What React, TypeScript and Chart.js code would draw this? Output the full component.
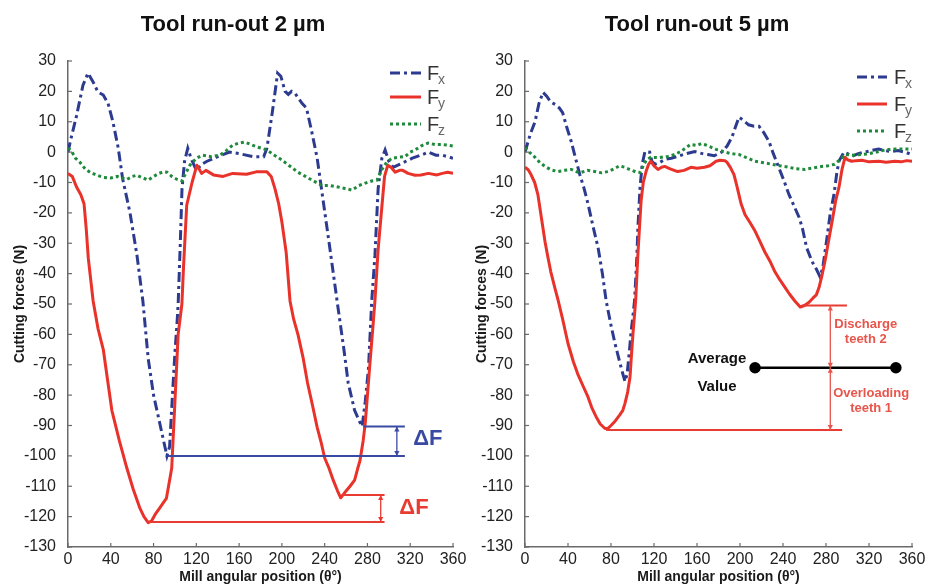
import React, { useEffect, useRef } from "react";
import { Chart, registerables } from "chart.js";

Chart.register(...registerables);

// ---------------- Axes ----------------
const X_MIN = 0;
const X_MAX = 360;
const X_STEP = 40;
const Y_MIN = -130;
const Y_MAX = 30;
const Y_STEP = 10;

// ---------------- Tool run-out 2 µm ----------------
const fx2Angles = [0, 2, 8, 14, 18.7, 23.6, 28, 33, 37.5, 42, 47, 51, 58, 64.5, 70, 75, 80, 86, 90, 92.5, 95, 98, 100, 102, 103, 105, 106.6, 109, 112, 115, 120, 125, 130, 140, 151, 160, 173, 183, 186, 191, 196, 199, 203, 206, 209, 212, 215, 219, 223, 228, 233, 237, 245, 252, 258, 262, 268, 273, 275, 278, 281, 284, 287, 290, 293.5, 296.5, 300, 304, 310, 316, 322, 330, 337, 344, 350, 355, 360];
const fx2Values = [0, 3.3, 12, 22, 26, 23, 19.8, 18.8, 16, 10, 1.3, -8.6, -20, -34, -49, -68, -80, -89.6, -96, -100, -97, -78, -66, -56, -50, -30, -12, -3, 1.3, -2, -6, -4, -3, -1.5, 0, -0.5, -1.5, -1.5, 1.3, 13, 26, 25, 20, 19, 20, 19.5, 18, 16, 14.5, 6.6, -2, -12, -32, -50, -65, -76, -85, -89, -90.3, -82, -71, -49, -34, -12, -2, 0.7, -3, -5, -4, -3, -2, -1, 0, -1, -1, -1.5, -2];

const fy2Angles = [0, 4, 8, 12, 15, 17, 19, 23.5, 28, 33, 37, 41, 48, 55, 61, 67, 71, 75, 78, 82, 86, 90, 92, 95, 97, 100, 103, 106.5, 108, 111, 116, 120.5, 125, 129, 136, 145, 154, 167, 176, 186, 190, 193.5, 197, 200, 204, 207.6, 211, 215, 220, 224, 229, 233, 237, 240, 244, 248, 252, 255, 259, 263.7, 268, 271, 273, 276, 278, 280, 282, 285, 287, 290, 293.6, 296, 299, 302, 306, 310, 313, 318, 324.5, 330, 337, 345, 350, 355, 360];
const fy2Values = [-7, -8, -11.5, -14, -17, -25, -35, -49, -58, -65, -75, -85, -95, -104, -111, -117, -120, -122, -121.5, -119, -117, -115, -114, -108, -104, -82, -60, -50, -38, -17.5, -10, -4.3, -7, -6, -7.5, -8, -7, -7.3, -6.5, -6.5, -8, -12, -17, -23, -33, -49, -55, -60, -68, -76, -84, -90.6, -96, -100.7, -104, -108, -111.5, -113.8, -112, -110, -108, -104, -101.6, -95, -89, -80, -71, -58, -49, -32, -17.5, -8, -4.3, -5, -6.6, -6, -6, -7, -7.6, -7.5, -7, -7.5, -7, -6.6, -7];

const fz2Angles = [0, 3, 7, 11, 16, 20.6, 26, 33, 40, 46, 51, 55, 60, 64.5, 70, 75, 80, 85, 89, 92.5, 97, 102, 106.6, 110, 114, 120, 126, 134, 142, 148, 154, 160, 165.5, 171, 176.7, 181, 186, 193, 200, 207, 215, 222, 228, 237.5, 245, 252.5, 259, 265.6, 272, 278, 284, 289, 293, 298, 303, 308.6, 315, 320, 324.5, 330, 336.6, 343, 350, 355, 360];
const fz2Values = [1.3, 0.5, -2, -3.3, -5.5, -6.6, -7.5, -8.3, -8.5, -8, -8.6, -9, -8, -7.6, -8.5, -9.2, -8, -7, -6.5, -6.6, -8, -9, -9.5, -7, -4.3, -2, -1, -1.5, -1, 0.5, 2.3, 3, 3.3, 2.5, 1.7, 1.3, 0.7, -1, -2.6, -4.5, -6.6, -8, -9.2, -11, -11, -11.5, -12, -12.5, -11, -10.2, -9.5, -9.2, -6, -3.3, -2, -1.7, -1.5, 0, 0.7, 2, 3, 2.5, 2.5, 2.3, 2];

// ΔF reference lines (run-out 2 µm): [y, xStart, xEnd]
const deltaBlueLines = [[-100, 93, 315], [-90.3, 276, 315]];
const deltaRedLines = [[-121.8, 75, 296], [-112.9, 256, 296]];
// ΔF arrows: [x, yFrom, yTo]
const deltaBlueArrow = [307.5, -90.3, -100];
const deltaRedArrow = [292.4, -112.9, -121.8];
// ΔF labels: [x, y]
const deltaBlueLabel = [336.5, -94.4];
const deltaRedLabel = [323.5, -117.3];

// ---------------- Tool run-out 5 µm ----------------
const fx5Angles = [0, 5, 9.3, 13, 16.7, 20, 24, 28, 32, 35, 39, 43, 47, 51, 55, 58.6, 63, 68, 72, 75.5, 80, 83.7, 88, 91, 93, 95, 97, 98.6, 101, 102, 104, 105, 107, 109, 111.6, 116, 118, 121, 125, 130, 136, 142, 150, 158, 165, 170, 176, 183, 188, 192.5, 196, 199, 203, 208, 213, 217.7, 222, 227, 231, 236, 241, 245.6, 250, 255, 258, 262, 267, 271, 274.4, 277, 281, 284, 287.4, 290, 292, 296.7, 300, 304, 310, 316, 322, 329, 335, 341, 347, 353.5, 360];
const fx5Values = [0, 6, 10, 16, 19.7, 18.5, 16.5, 15.7, 14.5, 13, 8, 3.5, -2, -7.4, -12, -17, -24, -31.5, -40, -49, -57, -63, -69, -73, -75.5, -73, -66, -59.5, -52, -48.6, -35, -25, -11.7, -4, 0.2, 0, -3, -4, -3.5, -2.4, -2, -1.4, -0.5, 0.2, -0.5, -0.8, -1.2, 0, 2, 4.9, 8.5, 11.5, 10.5, 9, 8.5, 8.5, 6.5, 3.5, -0.5, -5, -9.5, -14, -17.5, -21.5, -25, -31.5, -36, -38.5, -41, -38, -28, -20, -14, -7, -3, 0, -0.5, -1.4, -0.5, 0, 0.5, 1, 0.5, 0.2, 0.5, 0, -0.8];

const fy5Angles = [0, 3, 5.6, 9, 12, 15, 18.6, 21, 24, 28, 30.7, 35, 40, 45, 49, 54, 58.6, 62, 66, 70, 74.4, 77, 80, 84, 88, 91, 93, 95.5, 97.7, 99, 100.5, 102, 103, 105, 108, 110, 112.6, 115, 117, 120, 123.7, 127, 130, 135, 142, 148, 154.4, 160, 167, 172, 177.7, 181.4, 186, 188, 191, 194.4, 197, 199, 201, 204.7, 209, 214, 218, 223, 228, 232.5, 237, 242, 246, 251, 256, 260, 264, 268, 271, 273.5, 276, 279, 282, 285.6, 289, 292, 295, 297.7, 300, 304, 308, 313.5, 320, 329, 336, 344, 350, 355, 360];
const fy5Values = [-5, -5.8, -7.4, -10, -14, -21, -29.4, -34, -39.4, -45, -48.6, -55, -63, -69, -73, -77, -80.6, -84, -87, -89.5, -91, -91, -90, -88.5, -86.6, -85, -82.7, -79, -74, -67, -59.5, -53, -48.6, -33.8, -16, -10, -6.4, -4, -3, -4.5, -5.7, -5, -4.7, -5.5, -6.4, -6, -5, -5.3, -5, -4.5, -3, -2.7, -2.8, -3.4, -5, -7.4, -11, -14, -17, -20.6, -23, -26, -29, -32.8, -36, -39.4, -42, -44.6, -46.7, -49, -51, -50.5, -49.5, -48, -47, -44.6, -41, -36, -30, -23, -16, -11.7, -5.5, -1.7, -2.5, -3, -2.8, -2.7, -3.2, -3, -3.3, -3, -3.2, -2.8, -3];

const fz5Angles = [0, 4, 9.3, 14, 18.6, 24, 30.7, 37, 43, 48, 52, 58, 65, 71, 77.5, 83, 88, 93, 98, 103, 107, 110, 113, 117, 125, 133, 139, 145, 150, 154, 160, 164, 167, 172, 177.7, 182, 186, 192, 199, 206, 214, 222, 229.8, 237, 245.6, 252, 260.5, 268, 276, 282, 288, 293, 297.7, 305, 313.5, 320, 329, 336, 344, 352, 360];
const fz5Values = [1.5, 0, -1.7, -3.5, -4.7, -5.8, -6.4, -6, -5.7, -6.5, -6.7, -6, -6.4, -6.8, -6.4, -5.5, -4.5, -5, -5.8, -6.5, -6.7, -4.5, -2.5, -1.7, -1.8, -1.4, -0.8, 0.2, 1.5, 2.5, 2.2, 2.8, 2.5, 1.8, 0.9, 0.5, 0, -0.5, -0.8, -1.8, -3, -3.5, -4, -4.5, -5, -5.5, -5.7, -5.2, -4.7, -4.5, -4, -2.5, -0.8, -1, -0.8, -0.5, 0.2, 0.8, 1, 1, 1];

// Run-out 5 µm annotations
const peakLines5 = [[-91.5, 75.5, 295], [-50.5, 258, 299.5]];
const averageLine5 = [[214, -71], [345, -71]];
const dischargeArrow5 = [284, -50.5, -71];
const overloadArrow5 = [284, -71, -91.5];
const averageLabel5 = [178.6, -68.2, -77.4]; // x, y("Average"), y("Value")
const dischargeLabel5 = [317, -56.6, -61.6];
const overloadLabel5 = [322, -79.3, -84.3];

// ---------------- Styles ----------------
const FONT = '"Liberation Sans", Arial, Helvetica, sans-serif';
const AXIS_COLOR = "#6a6a6a";
const TEXT_COLOR = "#222222";
const FX_COLOR = "#2c3b8f";
const FY_COLOR = "#e8322a";
const FZ_COLOR = "#1f8a3c";
const ANN_BLUE = "#3a4aa2";
const ANN_RED = "#e83c32";
const NOTE_RED = "#e8554b";
const FX_DASH = [10, 4, 3, 4];
const FZ_DASH = [3, 3];

const H = 588;
const PLOT_TOP = 61;
const PLOT_BOTTOM = 547;

type XY = { x: number; y: number };
function pts(a: number[], v: number[]): XY[] {
  const n = Math.min(a.length, v.length);
  const out: XY[] = [];
  for (let i = 0; i < n; i++) out.push({ x: a[i], y: v[i] });
  return out;
}

type TextItem = { x: number; y: number; text: string; color: string; font: string };
type ArrowItem = { x: number; y0: number; y1: number; color: string };

type Panel = {
  title: string;
  titleX: number;
  width: number;
  plotLeft: number;
  plotRight: number;
  yTitleX: number;
  legend: { x0: number; x1: number; tx: number; rows: number[] };
  fx: XY[];
  fy: XY[];
  fz: XY[];
  extra: any[];
  arrows: ArrowItem[];
  texts: TextItem[];
};

function seriesDatasets(p: Panel) {
  return [
    { label: "Fz", data: p.fz, borderColor: FZ_COLOR, borderWidth: 3, borderDash: FZ_DASH, pointRadius: 0, fill: false },
    { label: "Fy", data: p.fy, borderColor: FY_COLOR, borderWidth: 3, pointRadius: 0, fill: false, borderJoinStyle: "round" },
    { label: "Fx", data: p.fx, borderColor: FX_COLOR, borderWidth: 3, borderDash: FX_DASH, pointRadius: 0, fill: false },
  ];
}

function hLineDatasets(lines: number[][], color: string, width: number) {
  return lines.map((l) => ({
    label: "",
    data: [{ x: l[1], y: l[0] }, { x: l[2], y: l[0] }],
    borderColor: color,
    borderWidth: width,
    pointRadius: 0,
    fill: false,
  }));
}

function drawArrow(ctx: CanvasRenderingContext2D, x: number, y0: number, y1: number, color: string) {
  ctx.save();
  ctx.strokeStyle = color;
  ctx.fillStyle = color;
  ctx.lineWidth = 1.3;
  ctx.setLineDash([]);
  ctx.beginPath();
  ctx.moveTo(x, y0);
  ctx.lineTo(x, y1);
  ctx.stroke();
  const head = (yTip: number, dir: number) => {
    ctx.beginPath();
    ctx.moveTo(x, yTip);
    ctx.lineTo(x - 2.6, yTip + dir * 5);
    ctx.lineTo(x + 2.6, yTip + dir * 5);
    ctx.closePath();
    ctx.fill();
  };
  const dir = y1 > y0 ? 1 : -1;
  head(y0, dir);
  head(y1, -dir);
  ctx.restore();
}

function makePlugin(p: Panel) {
  return {
    id: "decor",
    afterDraw(chart: any) {
      const { ctx, chartArea: ca, scales } = chart;
      const xs = scales.x;
      const ys = scales.y;
      ctx.save();
      // inward tick marks
      ctx.strokeStyle = AXIS_COLOR;
      ctx.lineWidth = 1.2;
      ctx.setLineDash([]);
      xs.ticks.forEach((t: any) => {
        const px = xs.getPixelForValue(t.value);
        ctx.beginPath();
        ctx.moveTo(px, ca.bottom);
        ctx.lineTo(px, ca.bottom - 4);
        ctx.stroke();
      });
      ys.ticks.forEach((t: any) => {
        const py = ys.getPixelForValue(t.value);
        ctx.beginPath();
        ctx.moveTo(ca.left, py);
        ctx.lineTo(ca.left + 4, py);
        ctx.stroke();
      });

      // title
      ctx.fillStyle = "#111";
      ctx.textAlign = "center";
      ctx.textBaseline = "middle";
      ctx.font = `bold 22px ${FONT}`;
      ctx.fillText(p.title, p.titleX, 25);

      // axis titles
      ctx.font = `bold 14px ${FONT}`;
      ctx.fillStyle = "#1a1a1a";
      ctx.fillText("Mill angular position (θ°)", (ca.left + ca.right) / 2, 577);
      ctx.save();
      ctx.translate(p.yTitleX, (ca.top + ca.bottom) / 2);
      ctx.rotate(-Math.PI / 2);
      ctx.fillText("Cutting forces (N)", 0, 0);
      ctx.restore();

      // legend
      const entries = [
        { color: FX_COLOR, dash: FX_DASH, sub: "x" },
        { color: FY_COLOR, dash: [] as number[], sub: "y" },
        { color: FZ_COLOR, dash: FZ_DASH, sub: "z" },
      ];
      entries.forEach((e, i) => {
        const y = p.legend.rows[i];
        ctx.save();
        ctx.strokeStyle = e.color;
        ctx.lineWidth = 3;
        ctx.setLineDash(e.dash);
        ctx.beginPath();
        ctx.moveTo(p.legend.x0, y);
        ctx.lineTo(p.legend.x1, y);
        ctx.stroke();
        ctx.restore();
        ctx.textAlign = "left";
        ctx.textBaseline = "middle";
        ctx.fillStyle = "#333";
        ctx.font = `20px ${FONT}`;
        ctx.fillText("F", p.legend.tx, y + 1);
        ctx.fillStyle = "#666";
        ctx.font = `14px ${FONT}`;
        ctx.fillText(e.sub, p.legend.tx + 11, y + 7);
      });

      // arrows
      p.arrows.forEach((a) => {
        drawArrow(ctx, xs.getPixelForValue(a.x), ys.getPixelForValue(a.y0), ys.getPixelForValue(a.y1), a.color);
      });

      // texts
      p.texts.forEach((t) => {
        ctx.fillStyle = t.color;
        ctx.font = t.font;
        ctx.textAlign = "center";
        ctx.textBaseline = "middle";
        ctx.fillText(t.text, xs.getPixelForValue(t.x), ys.getPixelForValue(t.y));
      });
      ctx.restore();
    },
  };
}

function buildChart(canvas: HTMLCanvasElement, p: Panel) {
  const tickFont = { family: FONT, size: 16 };
  return new Chart(canvas, {
    type: "line",
    data: { datasets: [...p.extra, ...seriesDatasets(p)] as any },
    options: {
      responsive: false,
      animation: false,
      devicePixelRatio: 1,
      events: [],
      layout: { padding: { left: 0, right: p.width - p.plotRight, top: PLOT_TOP, bottom: 0 } },
      plugins: { legend: { display: false }, tooltip: { enabled: false }, title: { display: false } },
      elements: { line: { tension: 0, borderCapStyle: "butt" } },
      scales: {
        x: {
          type: "linear",
          min: X_MIN,
          max: X_MAX,
          ticks: { stepSize: X_STEP, color: TEXT_COLOR, font: tickFont, padding: -5, maxRotation: 0, autoSkip: false },
          grid: { display: false },
          border: { display: true, color: AXIS_COLOR, width: 1.5 },
          afterFit: (s: any) => {
            s.height = H - PLOT_BOTTOM;
          },
        },
        y: {
          type: "linear",
          min: Y_MIN,
          max: Y_MAX,
          ticks: { stepSize: Y_STEP, color: TEXT_COLOR, font: tickFont, padding: 4, autoSkip: false },
          grid: { display: false },
          border: { display: true, color: AXIS_COLOR, width: 1.5 },
          afterFit: (s: any) => {
            s.width = p.plotLeft;
          },
        },
      },
    } as any,
    plugins: [makePlugin(p)],
  });
}

const leftPanel: Panel = {
  title: "Tool run-out 2 µm",
  titleX: 233,
  width: 472,
  plotLeft: 68,
  plotRight: 453,
  yTitleX: 20,
  legend: { x0: 390, x1: 421, tx: 427, rows: [73, 97, 124] },
  fx: pts(fx2Angles, fx2Values),
  fy: pts(fy2Angles, fy2Values),
  fz: pts(fz2Angles, fz2Values),
  extra: [...hLineDatasets(deltaBlueLines, ANN_BLUE, 2), ...hLineDatasets(deltaRedLines, ANN_RED, 2)],
  arrows: [
    { x: deltaBlueArrow[0], y0: deltaBlueArrow[1], y1: deltaBlueArrow[2], color: ANN_BLUE },
    { x: deltaRedArrow[0], y0: deltaRedArrow[1], y1: deltaRedArrow[2], color: ANN_RED },
  ],
  texts: [
    { x: deltaBlueLabel[0], y: deltaBlueLabel[1], text: "ΔF", color: ANN_BLUE, font: `bold 22px ${FONT}` },
    { x: deltaRedLabel[0], y: deltaRedLabel[1], text: "ΔF", color: ANN_RED, font: `bold 22px ${FONT}` },
  ],
};

const rightPanel: Panel = {
  title: "Tool run-out 5 µm",
  titleX: 233,
  width: 464,
  plotLeft: 61,
  plotRight: 448,
  yTitleX: 18,
  legend: { x0: 393, x1: 423, tx: 430, rows: [77, 104, 131] },
  fx: pts(fx5Angles, fx5Values),
  fy: pts(fy5Angles, fy5Values),
  fz: pts(fz5Angles, fz5Values),
  extra: [
    ...hLineDatasets(peakLines5, ANN_RED, 2),
    {
      label: "",
      data: averageLine5.map((d) => ({ x: d[0], y: d[1] })),
      borderColor: "#000",
      borderWidth: 2.5,
      pointRadius: 4.5,
      pointBackgroundColor: "#000",
      pointBorderColor: "#000",
      fill: false,
    },
  ],
  arrows: [
    { x: dischargeArrow5[0], y0: dischargeArrow5[1], y1: dischargeArrow5[2], color: NOTE_RED },
    { x: overloadArrow5[0], y0: overloadArrow5[1], y1: overloadArrow5[2], color: NOTE_RED },
  ],
  texts: [
    { x: averageLabel5[0], y: averageLabel5[1], text: "Average", color: "#111", font: `bold 15px ${FONT}` },
    { x: averageLabel5[0], y: averageLabel5[2], text: "Value", color: "#111", font: `bold 15px ${FONT}` },
    { x: dischargeLabel5[0], y: dischargeLabel5[1], text: "Discharge", color: NOTE_RED, font: `bold 13px ${FONT}` },
    { x: dischargeLabel5[0], y: dischargeLabel5[2], text: "teeth 2", color: NOTE_RED, font: `bold 13px ${FONT}` },
    { x: overloadLabel5[0], y: overloadLabel5[1], text: "Overloading", color: NOTE_RED, font: `bold 13px ${FONT}` },
    { x: overloadLabel5[0], y: overloadLabel5[2], text: "teeth 1", color: NOTE_RED, font: `bold 13px ${FONT}` },
  ],
};

export default function App() {
  const leftRef = useRef<HTMLCanvasElement | null>(null);
  const rightRef = useRef<HTMLCanvasElement | null>(null);

  useEffect(() => {
    const charts: Chart[] = [];
    if (leftRef.current) charts.push(buildChart(leftRef.current, leftPanel));
    if (rightRef.current) charts.push(buildChart(rightRef.current, rightPanel));
    return () => charts.forEach((c) => c.destroy());
  }, []);

  return (
    <div style={{ position: "fixed", left: 0, top: 0, width: 928, height: 588, background: "#fff", overflow: "hidden" }}>
      <canvas
        ref={leftRef}
        width={leftPanel.width}
        height={H}
        style={{ position: "absolute", left: 0, top: 0, width: leftPanel.width, height: H }}
      />
      <canvas
        ref={rightRef}
        width={rightPanel.width}
        height={H}
        style={{ position: "absolute", left: 464, top: 0, width: rightPanel.width, height: H }}
      />
    </div>
  );
}
